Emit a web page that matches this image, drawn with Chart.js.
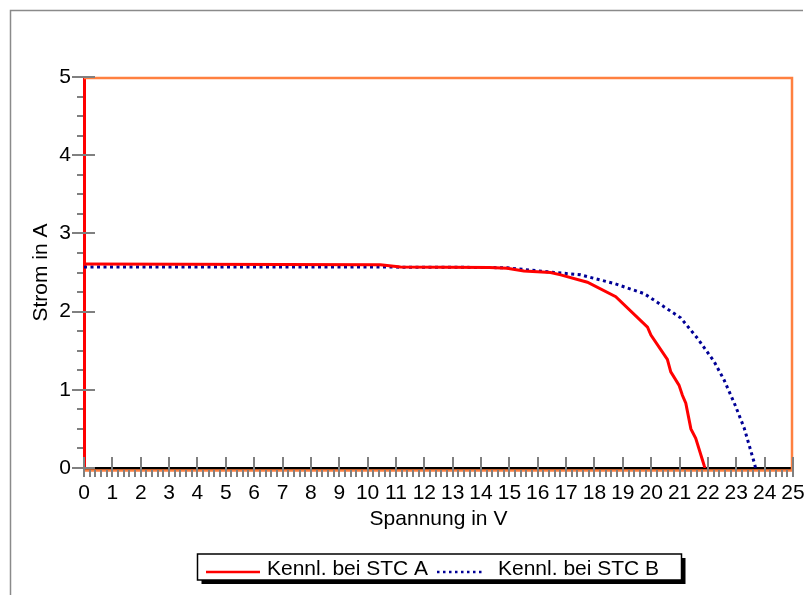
<!DOCTYPE html>
<html><head><meta charset="utf-8">
<script src="https://cdn.jsdelivr.net/npm/chart.js@4/dist/chart.umd.min.js"></script>
<style>html,body{margin:0;padding:0;background:#fff}#wrap{width:805px;height:595px;position:relative}</style>
</head><body><div id="wrap"><canvas id="c" width="805" height="595"></canvas></div>
<script>
// ---- data ----
const xTickValues = [0,1,2,3,4,5,6,7,8,9,10,11,12,13,14,15,16,17,18,19,20,21,22,23,24,25];
const yTickValues = [0,1,2,3,4,5];
const xMinorStep = 0.2;
const yMinorStep = 0.25;
const seriesNames = ['Kennl. bei STC A', 'Kennl. bei STC B'];
const axisTitles = ['Spannung in V', 'Strom in A'];

const voltageA = [0, 10.45, 11.16, 14.3, 14.92, 15.51, 16.45, 16.81, 17.75, 18.75, 19.87, 19.99, 20.57, 20.69, 20.98, 21.1, 21.22, 21.4, 21.57, 21.87, 21.9];
const currentA = [2.61, 2.60, 2.57, 2.565, 2.555, 2.52, 2.50, 2.47, 2.375, 2.19, 1.80, 1.70, 1.39, 1.23, 1.06, 0.93, 0.83, 0.50, 0.38, 0.03, 0];

const voltageB = [0, 5, 10, 14.0, 14.92, 16.33, 17.51, 18.69, 19.75, 20.46, 21.04, 21.63, 22.22, 22.57, 22.93, 23.28, 23.64, 23.68];
const currentB = [2.57, 2.57, 2.57, 2.565, 2.56, 2.51, 2.47, 2.36, 2.23, 2.06, 1.92, 1.66, 1.36, 1.125, 0.83, 0.51, 0.06, 0];

const toPoints = (xs, ys) => xs.map((x, i) => ({x: x, y: ys[i]}));

const FONT = 'Liberation Sans, Arial, sans-serif';

const framePlugin = {
  id: 'frame',
  beforeDraw(chart) {
    const ctx = chart.ctx;
    ctx.save();
    ctx.fillStyle = '#fff';
    ctx.fillRect(0, 0, chart.width, chart.height);
    ctx.strokeStyle = '#8a8a8a';
    ctx.lineWidth = 1.5;
    ctx.beginPath();
    ctx.moveTo(803, 10.5); ctx.lineTo(10.5, 10.5); ctx.lineTo(10.5, 595);
    ctx.stroke();
    ctx.restore();
  },
  beforeDatasetsDraw(chart) {
    const ctx = chart.ctx;
    const a = chart.chartArea;
    const xs = chart.scales.x, ys = chart.scales.y;
    ctx.save();
    // orange plot border
    ctx.strokeStyle = '#ff8040';
    ctx.lineWidth = 2.5;
    ctx.beginPath();
    ctx.moveTo(a.left, a.top + 1);
    ctx.lineTo(a.right - 1, a.top + 1);
    ctx.lineTo(a.right - 1, a.bottom + 2.5);
    ctx.lineTo(a.left, a.bottom + 2.5);
    ctx.stroke();
    // ticks
    ctx.strokeStyle = '#808080';
    ctx.lineWidth = 2;
    ctx.beginPath();
    const nx = Math.round((xs.max - xs.min) / xMinorStep);
    for (let i = 0; i <= nx; i++) {
      const v = xs.min + i * xMinorStep;
      const px = Math.round(xs.getPixelForValue(v));
      const major = Math.abs(v - Math.round(v)) < 1e-6;
      if (major) { ctx.moveTo(px, a.bottom - 11); ctx.lineTo(px, a.bottom + 9); }
      else { ctx.moveTo(px, a.bottom + 2); ctx.lineTo(px, a.bottom + 9); }
    }
    const ny = Math.round((ys.max - ys.min) / yMinorStep);
    for (let i = 0; i <= ny; i++) {
      const v = ys.min + i * yMinorStep;
      const py = Math.round(ys.getPixelForValue(v));
      const major = Math.abs(v - Math.round(v)) < 1e-6;
      if (major) { ctx.moveTo(a.left - 12, py); ctx.lineTo(a.left + 11, py); }
      else { ctx.moveTo(a.left - 7, py); ctx.lineTo(a.left - 1, py); }
    }
    ctx.stroke();
    ctx.restore();
  },
  afterDraw(chart) {
    const ctx = chart.ctx;
    const bx = 197.5, by = 554, bw = 484, bh = 26;
    ctx.save();
    ctx.fillStyle = '#000';
    ctx.fillRect(bx + 4, by + 4, bw, bh);
    ctx.fillStyle = '#fff';
    ctx.fillRect(bx, by, bw, bh);
    ctx.strokeStyle = '#000';
    ctx.lineWidth = 1.5;
    ctx.strokeRect(bx, by, bw, bh);
    const items = [
      {x0: 206, x1: 260, tx: 267},
      {x0: 437, x1: 482, tx: 498}
    ];
    chart.data.datasets.forEach((ds, i) => {
      const it = items[i];
      if (!it) return;
      ctx.strokeStyle = ds.borderColor;
      ctx.lineWidth = 2.5;
      ctx.setLineDash(ds.borderDash ? [2.5, 3.5] : []);
      ctx.beginPath();
      ctx.moveTo(it.x0, 572); ctx.lineTo(it.x1, 572);
      ctx.stroke();
      ctx.setLineDash([]);
      ctx.fillStyle = '#000';
      ctx.font = '21px ' + FONT;
      ctx.textBaseline = 'middle';
      ctx.textAlign = 'left';
      ctx.fillText(ds.label, it.tx, 569);
    });
    ctx.restore();
  }
};

new Chart(document.getElementById('c'), {
  type: 'line',
  data: {
    datasets: [
      {
        label: seriesNames[0],
        data: toPoints(voltageA, currentA),
        borderColor: '#ff0000',
        borderWidth: 3,
        pointRadius: 0,
        tension: 0,
        fill: false
      },
      {
        label: seriesNames[1],
        data: toPoints(voltageB, currentB),
        borderColor: '#000096',
        borderWidth: 3,
        borderDash: [3, 3.5],
        pointRadius: 0,
        tension: 0,
        fill: false
      }
    ]
  },
  options: {
    responsive: false,
    animation: false,
    devicePixelRatio: 1,
    layout: {padding: {left: 27, top: 77, right: 12, bottom: 63}},
    plugins: {legend: {display: false}, tooltip: {enabled: false}},
    scales: {
      x: {
        type: 'linear',
        min: 0, max: 25,
        afterFit(s) { s.height = 64; s.paddingLeft = 0; s.paddingRight = 0; },
        afterBuildTicks(s) { s.ticks = xTickValues.map(v => ({value: v})); },
        ticks: {stepSize: 1, autoSkip: false, maxRotation: 0, padding: 5, color: '#000', font: {family: FONT, size: 21}},
        grid: {display: true, drawOnChartArea: false, drawTicks: true, tickLength: 8, color: 'rgba(0,0,0,0)'},
        border: {display: true, color: '#000', width: 3},
        title: {display: true, text: axisTitles[0], color: '#000', font: {family: FONT, size: 21}, padding: {top: 0, bottom: 0}}
      },
      y: {
        type: 'linear',
        min: 0, max: 5,
        afterFit(s) { s.width = 57; s.paddingTop = 0; s.paddingBottom = 0; },
        afterBuildTicks(s) { s.ticks = yTickValues.map(v => ({value: v})); },
        ticks: {stepSize: 1, autoSkip: false, padding: 5, color: '#000', font: {family: FONT, size: 21}},
        grid: {display: true, drawOnChartArea: false, drawTicks: true, tickLength: 8, color: 'rgba(0,0,0,0)'},
        border: {display: true, color: '#ff0000', width: 3},
        title: {display: true, text: axisTitles[1], color: '#000', font: {family: FONT, size: 21}, padding: {top: 2, bottom: 0}}
      }
    }
  },
  plugins: [framePlugin]
});
</script>
</body></html>
